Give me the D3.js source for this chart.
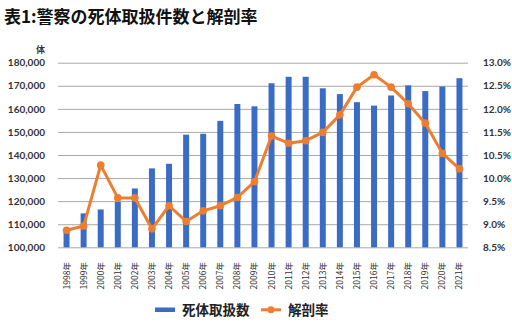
<!DOCTYPE html>
<html>
<head>
<meta charset="utf-8">
<script src="https://cdn.jsdelivr.net/npm/d3@7"></script>
<style>
  body { margin: 0; background: #fff; }
  text { font-family: Lato, "Noto Sans CJK JP", sans-serif; }
  .jp { font-family: "Noto Sans CJK JP", sans-serif; }
</style>
</head>
<body>
<div class="container"></div>
<script>
var years = ["1998年","1999年","2000年","2001年","2002年","2003年","2004年","2005年","2006年","2007年","2008年","2009年",
             "2010年","2011年","2012年","2013年","2014年","2015年","2016年","2017年","2018年","2019年","2020年","2021年"];
var bodies = [108000,114700,116400,119700,125500,134200,136200,148800,149200,154800,162100,161100,
              171100,173900,173900,168900,166400,162900,161400,165800,170200,167700,169700,173300];
var autopsyRate = [8.87,8.96,10.28,9.57,9.57,8.90,9.40,9.06,9.29,9.40,9.58,9.92,
                   11.32,11.01,11.12,11.48,11.87,12.47,12.74,12.47,12.11,11.69,10.57,10.20];
var leftTicks = [100000,110000,120000,130000,140000,150000,160000,170000,180000];
var rightTicks = [8.5,9.0,9.5,10.0,10.5,11.5,12.0,12.5,13.0];

const WIDTH = 512;
const HEIGHT = 335;
const LEFT = 58, RIGHT = 468, TOP = 62.7, BOTTOM = 247.3;
const BLUE = "#3a6cc6";
const ORANGE = "#ee7d2f";

var svg = d3.select(".container").append("svg")
  .attr("width", WIDTH)
  .attr("height", HEIGHT);

var xScale = d3.scaleBand()
  .domain(years)
  .range([LEFT, RIGHT])
  .paddingInner(0.65)
  .paddingOuter(0.325);

var yLeft = d3.scaleLinear()
  .domain([100000, 180000])
  .range([BOTTOM, TOP]);

// the right axis skips 11.0%, so map its labels onto the gridlines piece by piece
var yRight = d3.scaleLinear()
  .domain(rightTicks)
  .range(rightTicks.map(function(d, i){ return BOTTOM - i * (BOTTOM - TOP) / 8; }));

var translate = function(x, y){
  return "translate(" + x + "," + y + ")";
};

// title
svg.append("text")
  .attr("class", "jp")
  .attr("x", 4)
  .attr("y", 23)
  .attr("font-size", 17)
  .attr("font-weight", 700)
  .attr("fill", "#111")
  .text("表1:警察の死体取扱件数と解剖率");

svg.append("text")
  .attr("class", "jp")
  .attr("x", 45)
  .attr("y", 53)
  .attr("text-anchor", "end")
  .attr("font-size", 9)
  .attr("font-weight", 700)
  .attr("fill", "#333")
  .text("体");

// left axis + gridlines
var leftAxis = svg.append("g")
  .attr("transform", translate(LEFT, 0))
  .call(d3.axisLeft(yLeft)
    .tickValues(leftTicks)
    .tickSize(-(RIGHT - LEFT))
    .tickPadding(13)
    .tickFormat(d3.format(",")));
leftAxis.select(".domain").remove();
leftAxis.selectAll(".tick line").attr("stroke", "#a8a8a8").attr("stroke-width", 1);
leftAxis.selectAll(".tick text")
  .attr("font-size", 10)
  .attr("font-weight", 700)
  .attr("fill", "#333");

// right axis
var rightAxis = svg.append("g")
  .attr("transform", translate(RIGHT, 0))
  .call(d3.axisRight(yRight)
    .tickValues(rightTicks)
    .tickSize(0)
    .tickPadding(15)
    .tickFormat(function(d){ return d.toFixed(1) + "%"; }));
rightAxis.select(".domain").remove();
rightAxis.selectAll(".tick text")
  .attr("font-size", 10)
  .attr("font-weight", 700)
  .attr("fill", "#333");

// year labels
svg.append("g").selectAll("text")
  .data(years)
  .enter().append("text")
  .attr("class", "jp")
  .attr("transform", function(d){ return translate(xScale(d) + xScale.bandwidth() / 2, 262) + " rotate(-90)"; })
  .attr("dy", "0.35em")
  .attr("text-anchor", "end")
  .attr("font-size", 8.5)
  .attr("fill", "#333")
  .text(function(d){ return d; });

// bars
svg.append("g").selectAll("rect")
  .data(bodies)
  .enter().append("rect")
  .attr("x", function(d, i){ return xScale(years[i]); })
  .attr("y", function(d){ return yLeft(d); })
  .attr("width", xScale.bandwidth())
  .attr("height", function(d){ return BOTTOM - yLeft(d); })
  .attr("fill", BLUE);

// autopsy rate line
var rateLine = d3.line()
  .x(function(d, i){ return xScale(years[i]) + xScale.bandwidth() / 2; })
  .y(function(d){ return yRight(d); });

svg.append("path")
  .datum(autopsyRate)
  .attr("d", rateLine)
  .attr("fill", "none")
  .attr("stroke", ORANGE)
  .attr("stroke-width", 3)
  .attr("stroke-linejoin", "round");

svg.append("g").selectAll("circle")
  .data(autopsyRate)
  .enter().append("circle")
  .attr("cx", function(d, i){ return xScale(years[i]) + xScale.bandwidth() / 2; })
  .attr("cy", function(d){ return yRight(d); })
  .attr("r", 3.8)
  .attr("fill", ORANGE);

// legend
var legend = svg.append("g");
legend.append("rect")
  .attr("x", 155).attr("y", 307.5)
  .attr("width", 20).attr("height", 4.5)
  .attr("fill", BLUE);
legend.append("text")
  .attr("class", "jp")
  .attr("x", 182).attr("y", 315)
  .attr("font-size", 13.5)
  .attr("font-weight", 700)
  .attr("fill", "#222")
  .text("死体取扱数");
legend.append("line")
  .attr("x1", 261).attr("x2", 281)
  .attr("y1", 309.8).attr("y2", 309.8)
  .attr("stroke", ORANGE)
  .attr("stroke-width", 3);
legend.append("circle")
  .attr("cx", 271).attr("cy", 309.8)
  .attr("r", 3.5)
  .attr("fill", ORANGE);
legend.append("text")
  .attr("class", "jp")
  .attr("x", 288).attr("y", 315)
  .attr("font-size", 13.5)
  .attr("font-weight", 700)
  .attr("fill", "#222")
  .text("解剖率");
</script>
</body>
</html>
